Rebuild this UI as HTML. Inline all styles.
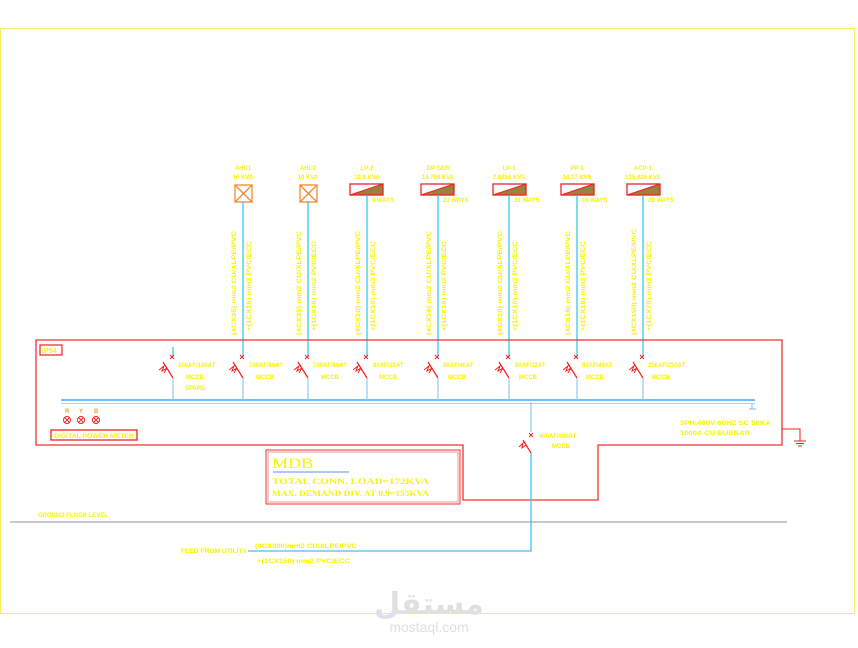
<!DOCTYPE html>
<html><head><meta charset="utf-8"><style>
html,body{margin:0;padding:0;background:#fff;}
svg{display:block;}
text{font-family:"Liberation Sans",sans-serif;fill:#f5f500;font-weight:bold;}
</style></head><body>
<svg width="858" height="648" viewBox="0 0 858 648" xmlns="http://www.w3.org/2000/svg">
<rect x="0.5" y="28.5" width="854" height="585" fill="none" stroke="#f5f060" stroke-width="1"/>

<g font-size="6">
<text x="243" y="170" text-anchor="middle">AHU1</text><text x="243" y="179" text-anchor="middle">10 KVA</text>
<text x="308" y="170" text-anchor="middle">AHU2</text><text x="308" y="179" text-anchor="middle">10 KVA</text>
<text x="367" y="170" text-anchor="middle">LP-2</text><text x="367" y="179" text-anchor="middle">10.8 KVA</text>
<text x="438" y="170" text-anchor="middle">DP-SER</text><text x="438" y="179" text-anchor="middle">14.794 KVA</text>
<text x="509" y="170" text-anchor="middle">LP-1</text><text x="509" y="179" text-anchor="middle">7.0264 KVA</text>
<text x="577" y="170" text-anchor="middle">PP-1</text><text x="577" y="179" text-anchor="middle">14.17 KVA</text>
<text x="643" y="170" text-anchor="middle">ACP-1</text><text x="643" y="179" text-anchor="middle">105.424 KVA</text>
<text x="372" y="202">9 WAYS</text><text x="443" y="202">21 WAYS</text><text x="514" y="202">21 WAYS</text>
<text x="582" y="202">16 WAYS</text><text x="648" y="202">28 WAYS</text>
</g>
<g stroke="#f08a30" stroke-width="1.3" fill="none">
<rect x="235" y="185" width="17" height="17"/><path d="M235 185L252 202M252 185L235 202"/>
<rect x="300" y="185" width="17" height="17"/><path d="M300 185L317 202M317 185L300 202"/>
</g>
<g>
<g transform="translate(350,184)"><polygon points="0,11 33,0 33,11" fill="#9b8040"/><rect x="0" y="0" width="33" height="11" fill="none" stroke="#f02020" stroke-width="1.3"/><line x1="0" y1="11" x2="33" y2="0" stroke="#f02020"/></g>
<g transform="translate(421,184)"><polygon points="0,11 33,0 33,11" fill="#9b8040"/><rect x="0" y="0" width="33" height="11" fill="none" stroke="#f02020" stroke-width="1.3"/><line x1="0" y1="11" x2="33" y2="0" stroke="#f02020"/></g>
<g transform="translate(493,184)"><polygon points="0,11 33,0 33,11" fill="#9b8040"/><rect x="0" y="0" width="33" height="11" fill="none" stroke="#f02020" stroke-width="1.3"/><line x1="0" y1="11" x2="33" y2="0" stroke="#f02020"/></g>
<g transform="translate(561,184)"><polygon points="0,11 33,0 33,11" fill="#9b8040"/><rect x="0" y="0" width="33" height="11" fill="none" stroke="#f02020" stroke-width="1.3"/><line x1="0" y1="11" x2="33" y2="0" stroke="#f02020"/></g>
<g transform="translate(627,184)"><polygon points="0,11 33,0 33,11" fill="#9b8040"/><rect x="0" y="0" width="33" height="11" fill="none" stroke="#f02020" stroke-width="1.3"/><line x1="0" y1="11" x2="33" y2="0" stroke="#f02020"/></g>
</g>
<g stroke="#30c0f0" stroke-width="1.2">
<line x1="243" y1="202" x2="243" y2="356"/><line x1="308" y1="202" x2="308" y2="356"/>
<line x1="367" y1="195" x2="367" y2="356"/><line x1="438" y1="195" x2="438" y2="356"/>
<line x1="509" y1="195" x2="509" y2="356"/><line x1="577" y1="195" x2="577" y2="356"/>
<line x1="643" y1="195" x2="643" y2="356"/><line x1="173" y1="347" x2="173" y2="356"/>
</g>
<g font-size="6" font-weight="normal">
<text transform="translate(236,335) rotate(-90)" textLength="104" lengthAdjust="spacingAndGlyphs">(4CX35)  mm2  CU/XLPE/PVC</text>
<text transform="translate(251,331) rotate(-90)" textLength="90" lengthAdjust="spacingAndGlyphs">+(1CX16)  mm2  PVC/ECC</text>
<text transform="translate(301,335) rotate(-90)" textLength="104" lengthAdjust="spacingAndGlyphs">(4CX35)  mm2  CU/XLPE/PVC</text>
<text transform="translate(316,331) rotate(-90)" textLength="90" lengthAdjust="spacingAndGlyphs">+(1CX16)  mm2  PVC/ECC</text>
<text transform="translate(360,335) rotate(-90)" textLength="104" lengthAdjust="spacingAndGlyphs">(4CX10)  mm2  CU/XLPE/PVC</text>
<text transform="translate(375,331) rotate(-90)" textLength="90" lengthAdjust="spacingAndGlyphs">+(1CX10)  mm2  PVC/ECC</text>
<text transform="translate(431,335) rotate(-90)" textLength="104" lengthAdjust="spacingAndGlyphs">(4CX16)  mm2  CU/XLPE/PVC</text>
<text transform="translate(446,331) rotate(-90)" textLength="90" lengthAdjust="spacingAndGlyphs">+(1CX16)  mm2  PVC/ECC</text>
<text transform="translate(502,335) rotate(-90)" textLength="104" lengthAdjust="spacingAndGlyphs">(4CX10)  mm2  CU/XLPE/PVC</text>
<text transform="translate(517,331) rotate(-90)" textLength="90" lengthAdjust="spacingAndGlyphs">+(1CX10)  mm2  PVC/ECC</text>
<text transform="translate(570,335) rotate(-90)" textLength="104" lengthAdjust="spacingAndGlyphs">(4CX16)  mm2  CU/XLPE/PVC</text>
<text transform="translate(585,331) rotate(-90)" textLength="90" lengthAdjust="spacingAndGlyphs">+(1CX16)  mm2  PVC/ECC</text>
<text transform="translate(636,335) rotate(-90)" textLength="106" lengthAdjust="spacingAndGlyphs">(4CX150)  mm2  CU/XLPE/PVC</text>
<text transform="translate(651,331) rotate(-90)" textLength="90" lengthAdjust="spacingAndGlyphs">+(1CX70)  mm2  PVC/ECC</text>
</g>

<path d="M36 340H782V445H598V500H463V445H36Z" fill="none" stroke="#f03030" stroke-width="1.3"/>
<rect x="40" y="345" width="22" height="10" fill="none" stroke="#f02020" stroke-width="1.2"/>
<text x="42" y="353" font-size="7">IP54</text>

<line x1="61" y1="400" x2="755" y2="400" stroke="#80b8f0" stroke-width="2"/>
<line x1="61" y1="403.5" x2="755" y2="403.5" stroke="#a8d0f8" stroke-width="1"/>
<path d="M752 404V409M749 409H756" stroke="#80b8f0"/>

<defs>
<g id="brk">
<path d="M-2 -2L2 2M2 -2L-2 2" stroke="#f02020" stroke-width="1"/>
<path d="M-9 5L1 21" stroke="#f02020" stroke-width="1.2"/>
<path d="M-13 13L-8 9L-10 14L-5 11L-8 16" stroke="#f02020" fill="none" stroke-width="1"/>
<line x1="1" y1="21" x2="1" y2="43" stroke="#90c8f0" stroke-width="1.2"/>
</g>
</defs>
<use href="#brk" x="172" y="357"/><use href="#brk" x="242" y="357"/><use href="#brk" x="307" y="357"/>
<use href="#brk" x="366" y="357"/><use href="#brk" x="437" y="357"/><use href="#brk" x="508" y="357"/>
<use href="#brk" x="576" y="357"/><use href="#brk" x="642" y="357"/>
<g font-size="6">
<text x="178" y="367">100AF/100AT</text><text x="186" y="379">MCCB</text><text x="185" y="390">SPARE</text>
<text x="249" y="367">100AF/80AT</text><text x="256" y="379">MCCB</text>
<text x="313" y="367">100AF/80AT</text><text x="321" y="379">MCCB</text>
<text x="373" y="367">80AF/32AT</text><text x="379" y="379">MCCB</text>
<text x="443" y="367">80AF/40AT</text><text x="448" y="379">MCCB</text>
<text x="515" y="367">80AF/32AT</text><text x="519" y="379">MCCB</text>
<text x="582" y="367">80AF/40AT</text><text x="586" y="379">MCCB</text>
<text x="648" y="367">250AF/250AT</text><text x="652" y="379">MCCB</text>
</g>

<line x1="531" y1="402" x2="531" y2="432" stroke="#90c8f0" stroke-width="1.2"/>
<path d="M529 433L533 437M533 433L529 437" stroke="#f02020"/>
<path d="M523 440L531 453" stroke="#f02020" stroke-width="1.2"/>
<path d="M519 447L523 443L522 448L526 445" stroke="#f02020" fill="none"/>
<path d="M531 453V551H248" stroke="#40c0f0" stroke-width="1.3" fill="none"/>
<text x="539" y="438" font-size="6">400AF/400AT</text><text x="552" y="448" font-size="6">MCCB</text>

<text x="680" y="425" font-size="6" textLength="91" lengthAdjust="spacingAndGlyphs">3PH,400V 60HZ SC 50KA</text>
<text x="680" y="435" font-size="6" textLength="70" lengthAdjust="spacingAndGlyphs">1000A CU BUSBAR</text>
<path d="M782 429H800V441M794 441H806M796 443.5H804M798 446H802" stroke="#f02020" fill="none"/>

<g font-size="6"><text x="65" y="413" style="fill:#f0a030">R</text><text x="79" y="413" style="fill:#f0a030">Y</text><text x="94" y="413" style="fill:#f0a030">B</text></g>
<g stroke="#f02020" stroke-width="1" fill="#fff">
<circle cx="67" cy="420" r="3.5"/><circle cx="81" cy="420" r="3.5"/><circle cx="96" cy="420" r="3.5"/>
<path d="M65 418L69 422M69 418L65 422M79 418L83 422M83 418L79 422M94 418L98 422M98 418L94 422"/>
</g>
<rect x="51" y="430" width="86" height="10" fill="none" stroke="#f02020" stroke-width="1.3"/>
<text x="54" y="438" font-size="6" textLength="80" lengthAdjust="spacingAndGlyphs">DIGITAL POWER METER</text>

<rect x="266" y="450" width="194" height="54" fill="none" stroke="#f03030" stroke-width="1"/>
<rect x="268" y="452" width="190" height="50" fill="none" stroke="#f08080" stroke-width="0.8"/>
<text x="272" y="468" font-size="15" textLength="41" lengthAdjust="spacingAndGlyphs" style="font-family:'Liberation Serif',serif;font-weight:normal">MDB</text>
<line x1="273" y1="472" x2="349" y2="472" stroke="#90b8f0" stroke-width="1.5"/>
<text x="272" y="484" font-size="8.5" textLength="157" lengthAdjust="spacingAndGlyphs" style="font-family:'Liberation Serif',serif">TOTAL CONN. LOAD=172KVA</text>
<text x="272" y="496" font-size="8.5" textLength="157" lengthAdjust="spacingAndGlyphs" style="font-family:'Liberation Serif',serif">MAX. DEMAND DIV. AT 0.9=155KVA</text>

<line x1="10" y1="522" x2="787" y2="522" stroke="#909090" stroke-width="1"/>
<text x="38" y="517" font-size="6" textLength="70" lengthAdjust="spacingAndGlyphs">GROUND FLOOR LEVEL</text>
<text x="181" y="553" font-size="6" textLength="66" lengthAdjust="spacingAndGlyphs">FEED FROM UTILITY</text>
<text x="255" y="548" font-size="6" textLength="102" lengthAdjust="spacingAndGlyphs">(4CX300)mm2 CU/XLPE/PVC</text>
<text x="257" y="563" font-size="6" textLength="93" lengthAdjust="spacingAndGlyphs">+(1CX150) mm2 PVC/ECC</text>

<text x="429" y="614" font-size="30" text-anchor="middle" style="fill:#e0e0e0;font-family:'Liberation Sans','DejaVu Sans',sans-serif">مستقل</text>
<text x="429" y="632" font-size="14" text-anchor="middle" style="fill:#e0e0e0;font-weight:normal">mostaql.com</text>
</svg>
</body></html>
